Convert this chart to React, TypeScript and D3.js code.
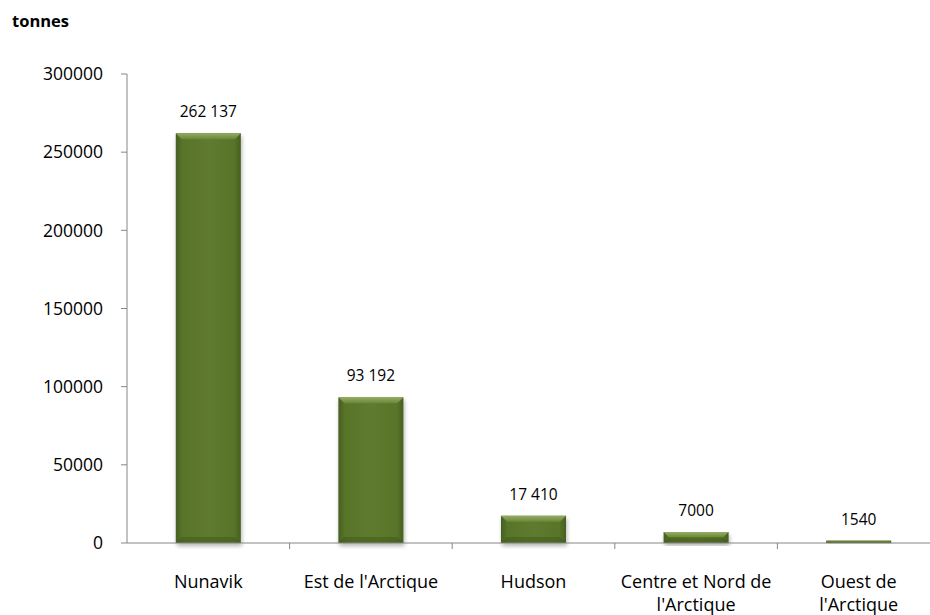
import React from "react";
import * as d3 from "d3";

const categories = ["Nunavik", "Est de l'Arctique", "Hudson", "Centre et Nord de l'Arctique", "Ouest de l'Arctique"];
const categoryLines = [["Nunavik"], ["Est de l'Arctique"], ["Hudson"], ["Centre et Nord de", "l'Arctique"], ["Ouest de", "l'Arctique"]];
const values = [262137, 93192, 17410, 7000, 1540];
const valueLabels = ["262 137", "93 192", "17 410", "7000", "1540"];
const yTicks = [0, 50000, 100000, 150000, 200000, 250000, 300000];

export default function App() {
  const W = 930, H = 615;
  const left = 127, right = 940, top = 74, bottom = 543;
  const x = d3.scaleBand<string>().domain(categories).range([left, right]).paddingInner(0.6).paddingOuter(0.3);
  const xOuter = d3.scaleBand<string>().domain(categories).range([left, right]);
  const y = d3.scaleLinear().domain([0, 300000]).range([bottom, top]);
  const font = "'Open Sans', 'Noto Sans', sans-serif";
  return (
    <svg width={W} height={H} style={{ position: "absolute", left: 0, top: 0, background: "#fff" }}>
      <defs>
        <linearGradient id="barG" x1="0" x2="1" y1="0" y2="0">
          <stop offset="0" stopColor="#465f20" />
          <stop offset="0.1" stopColor="#587429" />
          <stop offset="0.5" stopColor="#5f7b2f" />
          <stop offset="0.9" stopColor="#587429" />
          <stop offset="1" stopColor="#465f20" />
        </linearGradient>
        <linearGradient id="topG" x1="0" x2="0" y1="0" y2="1">
          <stop offset="0" stopColor="#93ad62" />
          <stop offset="1" stopColor="#6a8639" />
        </linearGradient>
        <filter id="sh" x="-20%" y="-20%" width="140%" height="140%">
          <feGaussianBlur in="SourceAlpha" stdDeviation="2" />
          <feOffset dx="1" dy="3" result="o" />
          <feComponentTransfer><feFuncA type="linear" slope="0.3" /></feComponentTransfer>
          <feMerge><feMergeNode /><feMergeNode in="SourceGraphic" /></feMerge>
        </filter>
      </defs>
      <text x={12} y={27} fontFamily={font} fontWeight="bold" fontSize={16.5} fill="#000">tonnes</text>
      {/* y axis */}
      <line x1={left} x2={left} y1={top} y2={bottom} stroke="#868686" strokeWidth={1} />
      {yTicks.map((t) => (
        <g key={t}>
          <line x1={left - 6} x2={left} y1={y(t)} y2={y(t)} stroke="#868686" />
          <text x={left - 24} y={y(t)} dy="0.36em" textAnchor="end" fontFamily={font} fontSize={17.5} fill="#000">{t}</text>
        </g>
      ))}
      {/* bars */}
      {categories.map((c, i) => {
        const bx = x(c)!, bw = x.bandwidth();
        const by = y(values[i]);
        const bh = bottom - by;
        const bev = Math.min(6, bh / 2);
        return (
          <g key={c} filter="url(#sh)">
            <rect x={bx} y={by} width={bw} height={bh} fill="url(#barG)" />
            <path d={`M${bx},${by} L${bx + bw},${by} L${bx + bw - bev},${by + bev} L${bx + bev},${by + bev} Z`} fill="url(#topG)" />
            <path d={`M${bx},${by + bh} L${bx + bw},${by + bh} L${bx + bw - bev},${by + bh - bev} L${bx + bev},${by + bh - bev} Z`} fill="#3d5419" opacity={0.45} />
          </g>
        );
      })}
      {/* x axis */}
      <line x1={left} x2={W} y1={bottom} y2={bottom} stroke="#868686" />
      {categories.map((c) => (
        <line key={c} x1={xOuter(c)! + xOuter.bandwidth()} x2={xOuter(c)! + xOuter.bandwidth()} y1={bottom} y2={bottom + 6} stroke="#868686" />
      ))}
      {categories.map((c, i) => (
        <text key={c} x={x(c)! + x.bandwidth() / 2} y={y(values[i]) - 16} textAnchor="middle" fontFamily={font} fontSize={15.5} fill="#000">{valueLabels[i]}</text>
      ))}
      {categories.map((c, i) => (
        <text key={c} x={x(c)! + x.bandwidth() / 2} y={588} textAnchor="middle" fontFamily={font} fontSize={18} fill="#000">
          {categoryLines[i].map((l, j) => (
            <tspan key={j} x={x(c)! + x.bandwidth() / 2} dy={j === 0 ? 0 : 23}>{l}</tspan>
          ))}
        </text>
      ))}
    </svg>
  );
}
